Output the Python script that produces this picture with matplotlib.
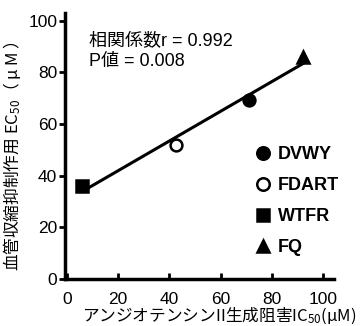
import numpy as np
import matplotlib
matplotlib.use("Agg")
import matplotlib.pyplot as plt
from matplotlib.lines import Line2D

plt.rcParams['font.family'] = ['Liberation Sans', 'Noto Sans CJK JP', 'DejaVu Sans']
plt.rcParams['mathtext.fontset'] = 'custom'
plt.rcParams['mathtext.rm'] = 'Noto Sans CJK JP'
plt.rcParams['mathtext.it'] = 'Noto Sans CJK JP'
plt.rcParams['mathtext.bf'] = 'Noto Sans CJK JP:bold'
plt.rcParams['mathtext.sf'] = 'Noto Sans CJK JP'
plt.rcParams['mathtext.default'] = 'regular'

names = ["DVWY", "FDART", "WTFR", "FQ"]
ic50 = [71, 42.5, 6, 92]
ec50 = [69.5, 52, 36, 86]
markers = ["o", "o", "s", "^"]
faces = ["black", "white", "black", "black"]
xticks = [0, 20, 40, 60, 80, 100]
yticks = [0, 20, 40, 60, 80, 100]

fig = plt.figure(figsize=(3.63, 3.26), dpi=100)
ax = fig.add_axes([0.179, 0.144, 0.74, 0.816])

# regression line
coef = np.polyfit(ic50, ec50, 1)
xl = np.array([min(ic50), max(ic50)])
ax.plot(xl, np.polyval(coef, xl), color="black", lw=2.2, zorder=1)

for x, y, m, f in zip(ic50, ec50, markers, faces):
    ax.plot([x], [y], marker=m, ms=8.5, mfc=f, mec="black", mew=1.8, ls="none", zorder=3)

ax.set_xlim(-0.7, 104)
ax.set_ylim(0, 103)
ax.set_xticks(xticks)
ax.set_yticks(yticks)
ax.tick_params(axis='x', direction='in', length=4, width=2, labelsize=12.5, pad=9)
ax.tick_params(axis='y', direction='out', length=4, width=2, labelsize=12.5, pad=1.5)
for s in ["top", "right"]:
    ax.spines[s].set_visible(False)
for s in ["left", "bottom"]:
    ax.spines[s].set_linewidth(2.5)

ax.set_xlabel("アンジオテンシンII生成阻害IC$_{50}$(μM)", fontsize=12, family='Noto Sans CJK JP')
ax.xaxis.set_label_coords(0.575, -0.1)
ax.set_ylabel("血管収縮抑制作用 EC$_{50}$（ μ M ）", fontsize=12, family='Noto Sans CJK JP')
ax.yaxis.set_label_coords(-0.158, 0.462)

ax.text(0.09, 0.925, "相関係数r = 0.992\nP値 = 0.008", transform=ax.transAxes,
        fontsize=13, va="top", ha="left", linespacing=1.2)

handles = [Line2D([], [], marker=m, ms=9, mfc=f, mec="black", mew=1.8, ls="none")
           for m, f in zip(markers, faces)]
leg = ax.legend(handles, names, loc="center left", bbox_to_anchor=(0.704, 0.293),
                frameon=False, borderaxespad=0, borderpad=0, handlelength=1.0,
                handletextpad=0.33, labelspacing=0.77,
                prop={"weight": "bold", "size": 13, "family": "Liberation Sans"})

fig.savefig("out.png", dpi=100)
